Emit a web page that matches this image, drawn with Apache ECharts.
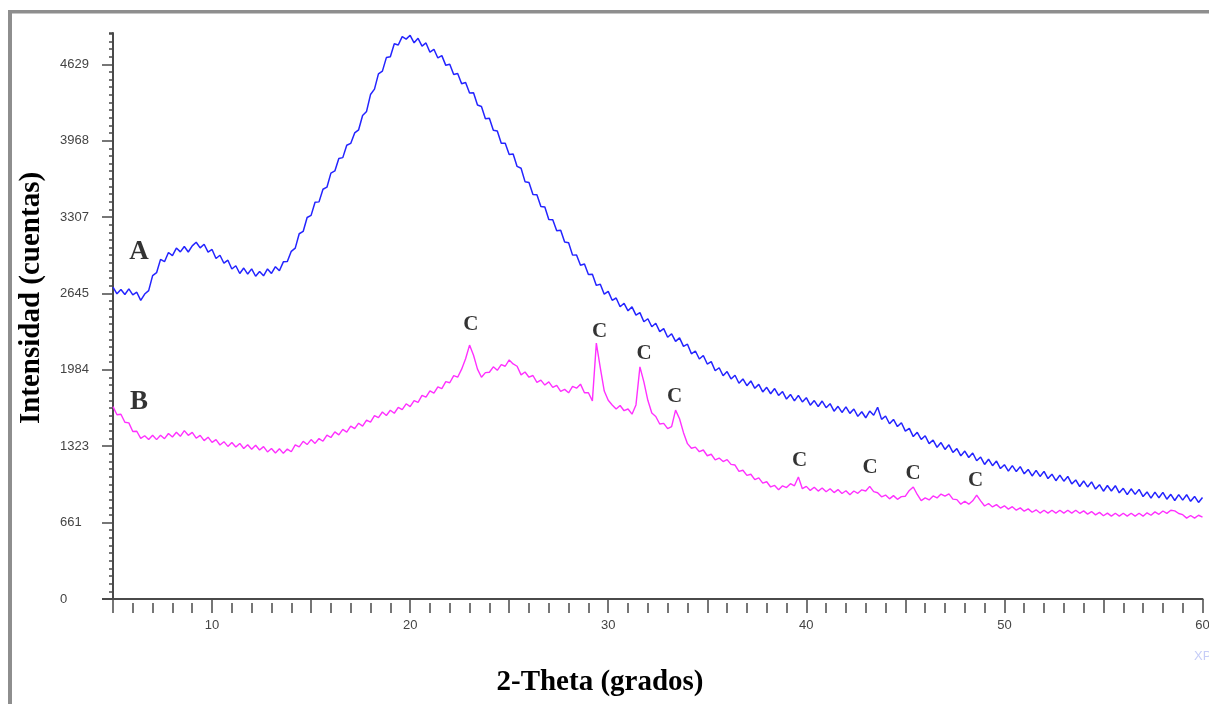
<!DOCTYPE html>
<html><head><meta charset="utf-8">
<script src="https://cdn.jsdelivr.net/npm/echarts@6/dist/echarts.min.js"></script>
<style>html,body{margin:0;padding:0;background:#fff}#c{width:1209px;height:704px}</style>
</head><body><div id="c"></div>
<script>
// 2-theta grid of the scan (degrees)
const thetaStart = 5, thetaStep = 0.2;
// Curve A (blue) intensities, counts, 5 points per degree
const intensityA = [
2700,2642,2679,2636,2685, 2633,2656,2585,2640,2670, 2800,2825,2940,2920,3000,
2973,3038,3005,3052,3004, 3057,3088,3040,3071,3003, 3026,2948,2976,2907,2933,
2857,2885,2818,2865,2813, 2858,2794,2836,2798,2857, 2818,2877,2842,2919,2922,
3010,3038,3162,3182,3303, 3321,3434,3438,3547,3565, 3687,3706,3814,3821,3928,
3944,4035,4062,4186,4221, 4367,4414,4546,4570,4687, 4695,4807,4796,4869,4847,
4880,4815,4854,4787,4814, 4734,4759,4684,4704,4620, 4630,4540,4550,4461,4472,
4380,4383,4276,4264,4158, 4161,4059,4052,3946,3945, 3849,3852,3745,3729,3613,
3605,3501,3500,3398,3393, 3286,3284,3188,3193,3090, 3084,2977,2979,2890,2900,
2809,2812,2715,2725,2639, 2663,2586,2606,2530,2560, 2495,2529,2457,2479,2400,
2426,2357,2387,2315,2341, 2266,2296,2230,2261,2187, 2206,2123,2147,2078,2108,
2034,2055,1976,2002,1933, 1969,1905,1937,1868,1905, 1847,1888,1824,1858,1793,
1833,1777,1822,1762,1796, 1731,1771,1715,1763,1706, 1743,1678,1718,1666,1714,
1656,1691,1626,1668,1615, 1663,1607,1645,1581,1621, 1569,1627,1591,1660,1555,
1584,1517,1555,1493,1526, 1453,1477,1406,1443,1381, 1413,1345,1376,1313,1354,
1295,1335,1269,1302,1239, 1281,1225,1264,1197,1229, 1165,1210,1154,1194,1129,
1163,1107,1155,1103,1146, 1084,1122,1065,1113,1061, 1105,1043,1081,1024,1072,
1020,1061,996,1031,974, 1022,970,1014,952,990, 933,983,935,981,919,
958,903,954,906,949, 887,927,873,925,876, 923,864,906,853,904,
856,903,846,888,836, 879
];
// Curve B (magenta) intensities, counts
const intensityB = [
1665,1595,1600,1530,1525, 1450,1452,1390,1413,1381, 1418,1380,1418,1388,1433,
1403,1443,1408,1458,1417, 1442,1392,1417,1371,1401, 1356,1380,1333,1362,1321,
1355,1316,1347,1303,1335, 1296,1331,1290,1319,1273, 1303,1264,1300,1261,1298,
1275,1335,1317,1365,1337, 1380,1347,1389,1366,1419, 1398,1447,1421,1468,1445,
1497,1475,1522,1497,1549, 1531,1588,1570,1619,1589, 1634,1608,1659,1640,1690,
1665,1718,1702,1762,1747, 1802,1782,1837,1822,1882, 1872,1934,1920,1990,2080,
2198,2110,1990,1920,1960, 1963,2010,1980,2029,2015, 2070,2035,2015,1940,1965,
1920,1935,1876,1895,1852, 1880,1832,1850,1798,1815, 1785,1840,1825,1860,1785,
1785,1715,2215,2000,1800, 1720,1680,1645,1675,1630, 1645,1600,1680,2010,1880,
1720,1610,1580,1515,1520, 1475,1492,1635,1560,1440, 1345,1305,1315,1275,1290,
1240,1253,1205,1220,1190, 1207,1165,1160,1105,1115, 1070,1080,1033,1048,1003,
1015,970,983,945,980, 965,998,980,1056,955, 975,940,967,934,961,
928,955,921,947,913, 937,902,935,915,945, 935,975,930,920,885,
900,867,895,863,886, 890,940,970,905,852, 875,858,892,875,908,
890,910,865,860,821, 846,821,850,900,850, 805,827,797,817,787,
807,778,799,769,789, 760,780,751,772,744, 768,743,768,743,768,
743,768,743,768,742, 763,735,757,728,750, 721,743,717,742,717,
742,717,742,717,742, 717,746,725,754,733, 762,741,768,763,740,
730,700,723,700,725, 709
];
// Axis tick labels
const xTickLabels = [10, 20, 30, 40, 50, 60];
const yTickLabels = [0, 661, 1323, 1984, 2645, 3307, 3968, 4629];
// Curve labels (A, B) and peak markers (C)
const curveLabelText = ['A', 'B'];
const curveLabelX = [6.31, 6.31];
const curveLabelY = [3000, 1705];
const peakX = [23.07, 29.56, 31.81, 33.35, 39.66, 43.22, 45.39, 48.54];
const peakY = [2372, 2316, 2125, 1749, 1199, 1138, 1086, 1026];
const peakText = 'C';
const xTitle = '2-Theta (grados)';
const yTitle = 'Intensidad (cuentas)';

const toPairs = arr => arr.map((v, i) => [+(thetaStart + i * thetaStep).toFixed(2), v]);
const tickFont = "'Liberation Sans',Arial,sans-serif";
const serif = "'Liberation Serif','Times New Roman',serif";
const axisColor = '#4a4a4a';
const titleFont = "bold 29px 'Liberation Serif','Times New Roman',serif";

const chart = echarts.init(document.getElementById('c'), null, {renderer: 'canvas'});
chart.setOption({
  animation: false,
  backgroundColor: '#fff',
  grid: {left: 113, right: 6.5, top: 33, bottom: 105, containLabel: false, outerBoundsMode: 'none'},
  xAxis: [{
    type: 'value', min: 5, max: 60, interval: 5, position: 'bottom',
    axisLine: {show: true, onZero: false, lineStyle: {color: axisColor, width: 2}},
    axisTick: {show: true, length: 14, lineStyle: {color: axisColor, width: 1.5}},
    axisLabel: {customValues: xTickLabels, margin: 20, color: '#444', fontFamily: tickFont, fontSize: 13,
      formatter: v => String(Math.round(v))},
    splitLine: {show: false}
  }, {
    type: 'value', min: 5, max: 60, interval: 1, position: 'bottom', offset: 4,
    axisLine: {show: false, onZero: false},
    axisTick: {show: true, length: 10, lineStyle: {color: axisColor, width: 1.5}},
    axisLabel: {show: false}, splitLine: {show: false}
  }],
  yAxis: [{
    type: 'value', min: 0, max: 4900, position: 'left',
    axisLine: {show: true, onZero: false, lineStyle: {color: axisColor, width: 2}},
    axisTick: {show: true, length: 11, customValues: yTickLabels, lineStyle: {color: axisColor, width: 1.5}},
    axisLabel: {customValues: yTickLabels, align: 'left', margin: 53, color: '#444', fontFamily: tickFont, fontSize: 13,
      formatter: v => String(Math.round(v))},
    splitLine: {show: false}
  }, {
    type: 'value', min: 0, max: 4900, interval: 66.133, position: 'left',
    axisLine: {show: false, onZero: false},
    axisTick: {show: true, length: 4, lineStyle: {color: axisColor, width: 1.5}},
    axisLabel: {show: false}, splitLine: {show: false}
  }],
  series: [{
    name: 'A', type: 'line', xAxisIndex: 0, yAxisIndex: 0, data: toPairs(intensityA),
    symbol: 'none', lineStyle: {color: '#2424ff', width: 1.5}, silent: true
  }, {
    name: 'B', type: 'line', xAxisIndex: 0, yAxisIndex: 0, data: toPairs(intensityB),
    symbol: 'none', lineStyle: {color: '#ff30ff', width: 1.4}, silent: true
  }, {
    type: 'scatter', xAxisIndex: 0, yAxisIndex: 0, silent: true, symbolSize: 1,
    itemStyle: {color: 'rgba(0,0,0,0)'},
    data: curveLabelX.map((x, i) => ({value: [x, curveLabelY[i]], name: curveLabelText[i]})),
    label: {show: true, position: 'inside', formatter: p => p.name, fontFamily: serif, fontWeight: 'bold', fontSize: 27, color: '#000'}
  }, {
    type: 'scatter', xAxisIndex: 0, yAxisIndex: 0, silent: true, symbolSize: 1,
    itemStyle: {color: 'rgba(0,0,0,0)'},
    data: peakX.map((x, i) => [x, peakY[i]]),
    label: {show: true, position: 'inside', formatter: () => peakText, fontFamily: serif, fontWeight: 'bold', fontSize: 21, color: '#000'}
  }],
  graphic: [
    {type: 'rect', shape: {x: 8, y: 10, width: 1201, height: 3.5}, style: {fill: '#8e8e8e'}, silent: true},
    {type: 'rect', shape: {x: 8, y: 10, width: 4, height: 694}, style: {fill: '#8e8e8e'}, silent: true},
    {type: 'line', shape: {x1: 102, y1: 599, x2: 113, y2: 599}, style: {stroke: axisColor, lineWidth: 2}, silent: true},
    {type: 'text', x: 600, y: 683, silent: true,
      style: {text: xTitle, fill: '#000', font: titleFont, align: 'center', verticalAlign: 'middle'}},
    {type: 'text', x: 32, y: 298, rotation: Math.PI / 2, silent: true,
      style: {text: yTitle, fill: '#000', font: titleFont, align: 'center', verticalAlign: 'middle'}},
    {type: 'text', x: 1194, y: 650, silent: true,
      style: {text: 'XP', fill: '#c6cdf7', font: "13px 'Liberation Sans',sans-serif"}}
  ]
});
</script></body></html>
